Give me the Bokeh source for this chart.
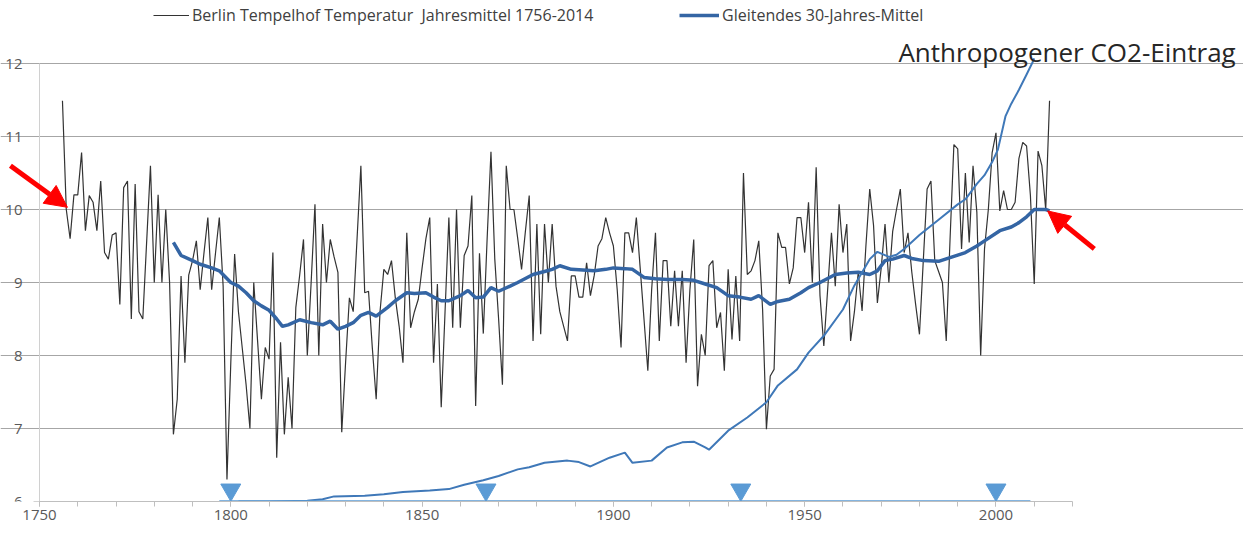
from bokeh.plotting import figure
from bokeh.models import (Range1d, FixedTicker, SingleIntervalTicker, Legend, LegendItem,
                          Arrow, NormalHead, Label)
from bokeh.core.properties import value
from bokeh.embed import file_html
from bokeh.resources import INLINE

# ---- data -------------------------------------------------------------
temp = [
    11.49, 10.0, 9.6, 10.2,                                            # 1756-1759
    10.2, 10.78, 9.71, 10.19, 10.1, 9.71, 10.39, 9.41, 9.32, 9.65,     # 1760s
    9.68, 8.7, 10.3, 10.39, 8.5, 10.35, 8.6, 8.5, 9.55, 10.6,          # 1770s
    9.0, 10.2, 9.0, 10.0, 9.0, 6.92, 7.4, 9.09, 7.9, 9.1,              # 1780s
    9.3, 9.57, 8.9, 9.41, 9.89, 8.9, 9.4, 9.89, 8.95, 6.3,             # 1790s
    7.9, 9.39, 8.6, 8.1, 7.6, 7.0, 9.0, 8.2, 7.4, 8.11,                # 1800s
    7.95, 9.41, 6.6, 8.18, 6.92, 7.7, 7.0, 8.66, 9.1, 9.59,            # 1810s
    8.0, 9.0, 10.07, 8.0, 9.8, 9.0, 9.59, 9.35, 9.14, 6.95,            # 1820s
    7.9, 8.79, 8.6, 9.6, 10.6, 8.86, 8.88, 8.1, 7.4, 8.6,              # 1830s
    9.18, 9.11, 9.3, 8.79, 8.4, 7.9, 9.68, 8.38, 8.6, 8.77,            # 1840s
    9.2, 9.6, 9.89, 7.9, 8.98, 7.29, 8.6, 9.89, 8.38, 10.0,            # 1850s
    8.38, 9.37, 9.5, 10.19, 7.31, 9.4, 8.3, 9.6, 10.79, 9.32,          # 1860s
    8.5, 7.6, 10.6, 10.0, 10.0, 9.6, 9.18, 9.7, 10.19, 8.2,            # 1870s
    9.8, 8.29, 9.8, 9.0, 9.8, 8.95, 8.6, 8.4, 8.2, 9.09,               # 1880s
    9.09, 8.8, 8.8, 9.27, 8.82, 9.1, 9.5, 9.6, 9.89, 9.68,             # 1890s
    9.5, 8.9, 8.11, 9.68, 9.68, 9.41, 9.89, 9.2, 8.5, 7.79,            # 1900s
    8.9, 9.68, 8.2, 9.3, 9.3, 8.4, 9.16, 8.4, 9.16, 7.9,               # 1910s
    8.9, 9.59, 7.58, 8.29, 8.0, 9.23, 9.3, 8.38, 8.59, 7.79,           # 1920s
    9.18, 8.22, 9.09, 8.2, 10.5, 9.11, 9.16, 9.3, 9.57, 8.63,          # 1930s
    6.99, 7.72, 7.81, 9.68, 9.48, 9.48, 8.98, 9.2, 9.89, 9.89,         # 1940s
    9.41, 10.1, 9.0, 10.58, 8.82, 8.13, 8.9, 9.68, 8.95, 10.07,        # 1950s
    9.41, 9.8, 8.2, 8.6, 9.14, 8.61, 9.5, 10.28, 9.78, 8.72,           # 1960s
    9.2, 9.8, 9.0, 9.7, 10.0, 10.28, 9.41, 9.68, 9.14, 8.7,            # 1970s
    8.29, 9.3, 10.28, 10.39, 9.3, 9.15, 9.0, 8.2, 9.6, 10.89,          # 1980s
    10.83, 9.46, 10.5, 9.55, 10.6, 9.96, 8.0, 9.46, 10.0, 10.78,       # 1990s
    11.05, 9.98, 10.26, 10.0, 10.0, 10.1, 10.7, 10.92, 10.87, 10.19,   # 2000s
    8.98, 10.8, 10.6, 10.0, 11.49,                                     # 2010-2014
]
temp_years = list(range(1756, 1756 + len(temp)))

ma_years = [1785, 1787, 1790, 1792, 1795, 1797, 1800, 1802, 1804, 1806, 1808, 1810,
            1812, 1813.5, 1815, 1818, 1821, 1824, 1826, 1828, 1830, 1832, 1834, 1836,
            1838, 1841, 1843, 1846, 1848, 1851, 1853, 1855, 1857, 1860, 1862, 1864,
            1866, 1868, 1870, 1873, 1875, 1879, 1882, 1884, 1886, 1889, 1892, 1895,
            1898, 1900, 1903, 1905, 1908, 1911, 1914, 1918, 1921, 1924, 1927, 1930,
            1933, 1936, 1938, 1941, 1943, 1946, 1949, 1951, 1954, 1958, 1961, 1964,
            1967, 1969, 1971, 1973, 1976, 1978, 1981, 1985, 1988, 1992, 1995, 1997,
            2001, 2004, 2006, 2008, 2010, 2013, 2014]
ma_vals = [9.55, 9.37, 9.3, 9.25, 9.2, 9.16, 9.0, 8.95, 8.86, 8.75, 8.68, 8.62,
           8.5, 8.4, 8.42, 8.49, 8.45, 8.42, 8.47, 8.36, 8.4, 8.45, 8.55, 8.59,
           8.54, 8.66, 8.75, 8.86, 8.85, 8.86, 8.8, 8.75, 8.75, 8.82, 8.89, 8.79,
           8.8, 8.93, 8.88, 8.95, 9.0, 9.11, 9.15, 9.18, 9.23, 9.18, 9.17, 9.16,
           9.18, 9.2, 9.19, 9.18, 9.07, 9.05, 9.04, 9.04, 9.03, 8.98, 8.93, 8.82,
           8.8, 8.77, 8.82, 8.7, 8.74, 8.77, 8.86, 8.93, 9.0, 9.11, 9.13, 9.14,
           9.11, 9.16, 9.3, 9.32, 9.37, 9.33, 9.3, 9.29, 9.34, 9.41, 9.5, 9.57,
           9.71, 9.76, 9.82, 9.9, 10.0, 10.0, 9.98]

co2_years = [1802, 1810, 1820, 1824, 1827, 1835, 1840, 1845, 1852, 1857, 1861, 1866,
             1870, 1875, 1878, 1882, 1888, 1891, 1894, 1899, 1903, 1905, 1910, 1914,
             1918, 1921, 1924, 1925, 1930, 1935, 1940, 1943, 1948, 1951, 1955, 1960,
             1963, 1967, 1969, 1972, 1974, 1976, 1980, 1985, 1990, 1992, 1995, 1997,
             1999, 2000.5, 2002.5, 2004, 2006, 2008, 2009.5, 2010]
co2_vals = [6.0, 6.0, 6.01, 6.03, 6.07, 6.08, 6.1, 6.13, 6.15, 6.17, 6.23, 6.29,
            6.35, 6.44, 6.47, 6.53, 6.56, 6.54, 6.48, 6.6, 6.67, 6.53, 6.56, 6.74,
            6.81, 6.82, 6.74, 6.71, 6.97, 7.15, 7.36, 7.59, 7.81, 8.04, 8.27, 8.63,
            8.96, 9.32, 9.42, 9.35, 9.38, 9.46, 9.65, 9.86, 10.07, 10.14, 10.35, 10.47,
            10.65, 10.82, 11.28, 11.45, 11.64, 11.85, 12.01, 12.07]

timeline_years = [1797, 2009]
timeline_vals = [6.0, 6.0]
marker_years = [1800, 1866.7, 1933.3, 2000]
marker_vals = [6.16, 6.16, 6.16, 6.16]

y_ticks = [6, 7, 8, 9, 10, 11, 12]
y_tick_labels = ["6", "7", "8", "9", "10", "11", "12"]
x_first, x_last = 1750, 2020

# ---- figure -----------------------------------------------------------
PX_PER_YEAR = 1033 / 270.0
PX_PER_UNIT = 73.0
W, H = 1243, 528
FRAME_BOTTOM = 501
x_lo = x_first - 39 / PX_PER_YEAR
x_hi = x_last + (W - 39 - 1033) / PX_PER_YEAR
y_hi = 6 + FRAME_BOTTOM / PX_PER_UNIT

p = figure(width=W, height=H, x_range=Range1d(x_lo, x_hi), y_range=Range1d(6, y_hi),
           output_backend="svg", toolbar_location=None,
           min_border_left=0, min_border_right=0, min_border_top=0,
           min_border_bottom=H - FRAME_BOTTOM)
p.outline_line_color = None
p.background_fill_color = "white"
p.yaxis.visible = False

p.xgrid.visible = False
p.ygrid.ticker = FixedTicker(ticks=[7, 8, 9, 10, 11, 12])
p.ygrid.bounds = (x_first - 6 / PX_PER_YEAR, x_last)
p.ygrid.grid_line_color = "#a6a6a6"
p.ygrid.grid_line_width = 1

xa = p.xaxis[0]
xa.ticker = SingleIntervalTicker(interval=50, num_minor_ticks=5)
xa.bounds = (x_first, x_last)
xa.axis_line_color = "#bfbfbf"
xa.major_tick_line_color = "#bfbfbf"
xa.minor_tick_line_color = "#bfbfbf"
xa.major_tick_in = 0
xa.major_tick_out = 5
xa.minor_tick_in = 0
xa.minor_tick_out = 5
xa.major_label_standoff = 3
xa.major_label_text_font = "Open Sans"
xa.major_label_text_font_size = "15px"
xa.major_label_text_color = "#595959"

# vertical value axis (drawn with the same scales)
p.segment(x0=[x_first], y0=[y_ticks[0]], x1=[x_first], y1=[y_ticks[-1]],
          line_color="#d0d0d0", line_width=1)
p.segment(x0=[x_first - 6 / PX_PER_YEAR], y0=[6], x1=[x_first], y1=[6],
          line_color="#a6a6a6", line_width=1)
p.text(x=[x_first - 17 / PX_PER_YEAR] * len(y_ticks), y=y_ticks, text=y_tick_labels,
       text_align="right", text_baseline="middle", text_font=value("Open Sans"),
       text_font_size="15px", text_color="#595959")

r_temp = p.line(temp_years, temp, line_color="#333333", line_width=1.2)
r_ma = p.line(ma_years, ma_vals, line_color="#3465a4", line_width=3.5)
p.line(co2_years, co2_vals, line_color="#3f78b8", line_width=2)
p.line(timeline_years, timeline_vals, line_color="#5b9bd5", line_width=2.5)
p.scatter(marker_years, marker_vals, marker="inverted_triangle", size=20,
          fill_color="#5b9bd5", line_color="#5b9bd5")

# ---- legends ----------------------------------------------------------
for item, loc, gw in [(LegendItem(label="Berlin Tempelhof Temperatur  Jahresmittel 1756-2014",
                                  renderers=[r_temp]), (153, 475), 36),
                      (LegendItem(label="Gleitendes 30-Jahres-Mittel", renderers=[r_ma]),
                       (679, 475), 40)]:
    lg = Legend(items=[item], location=loc, orientation="horizontal",
                border_line_color=None, background_fill_alpha=0,
                padding=0, margin=0, spacing=0, label_standoff=3,
                glyph_width=gw, glyph_height=14,
                label_text_font="Open Sans", label_text_font_size="16px",
                label_text_color="#404040")
    p.add_layout(lg)

# ---- annotations ------------------------------------------------------
p.add_layout(Label(x=1974.5, y=12.16, text="Anthropogener CO2-Eintrag",
                   text_font="Open Sans", text_font_size="26px", text_color="#262626",
                   text_baseline="alphabetic"))
p.add_layout(Arrow(x_start=1742.4, y_start=10.60, x_end=1757.3, y_end=10.03,
                   line_color="#ff0000", line_width=5,
                   end=NormalHead(size=22, fill_color="#ff0000", line_color="#ff0000")))
p.add_layout(Arrow(x_start=2025.7, y_start=9.46, x_end=2013.5, y_end=9.98,
                   line_color="#ff0000", line_width=5,
                   end=NormalHead(size=22, fill_color="#ff0000", line_color="#ff0000")))

open("out.html", "w").write(file_html(p, INLINE))
